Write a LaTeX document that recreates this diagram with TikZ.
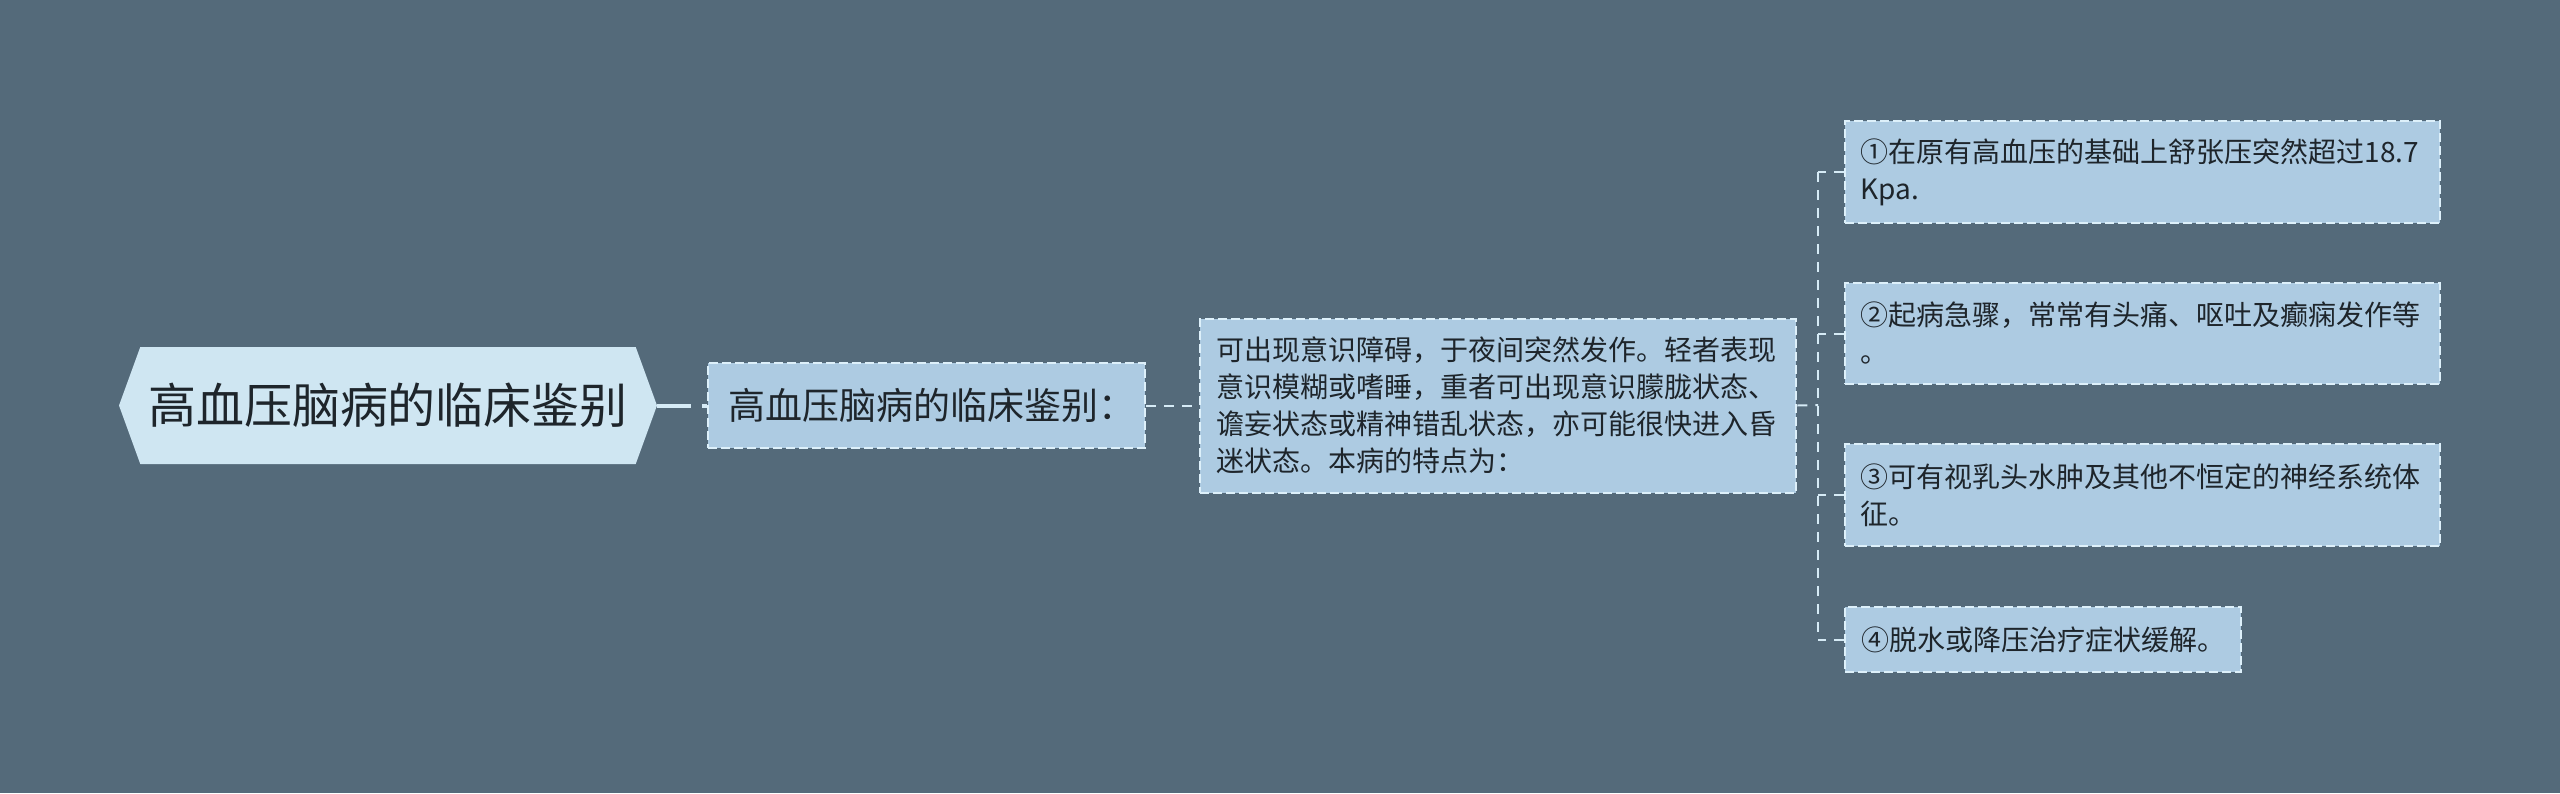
\documentclass[tikz,border=0pt]{standalone}
\usepackage{fontspec}
\setmainfont{Noto Sans CJK SC}
\usepackage{xcolor}
\usepackage{tikz}
\usetikzlibrary{
  shapes.symbols,
  positioning
}

\definecolor{bgslate}{HTML}{546A7A}
\definecolor{rootfill}{HTML}{CFE6F2}
\definecolor{boxfill}{HTML}{ADCBE2}
\definecolor{boxedge}{HTML}{DDF0FA}
\definecolor{linkcol}{HTML}{D6EBF6}
\definecolor{inkdark}{HTML}{1E252B}

\begin{document}
\begin{tikzpicture}[
          x=0.5pt,y=-0.5pt,
          rootnode/.style={
              signal,
              signal to=west and east,
              signal pointer angle=140,
              fill=rootfill,
              text=inkdark,
              inner sep=0pt,
              minimum width=269pt,
              minimum height=58.5pt,
              font=\fontsize{24}{28}\selectfont
            },boxnode/.style={
              draw=boxedge,
              fill=boxfill,
              text=inkdark,
              line width=1pt,
              dash pattern=on 4.5pt off 2pt,
              inner ysep=0pt,
              align=left
            },textbox/.style={
              boxnode,
              text width=282pt,
              inner xsep=7.75pt,
              font=\fontsize{14}{18.5}\selectfont
            },linkline/.style={
              draw=linkcol,
              line width=1pt,
              dash pattern=on 5pt off 4pt
            }
        ]
        % 背景と描画範囲
        \fill[bgslate] (0,0) rectangle (2560,793);
        \useasboundingbox (0,0) rectangle (2560,793);

        % 中心のノード
        \node[rootnode] (root) at (388,405.5) {高血压脑病的临床鉴别};

        % 第一階層
        \node[
          boxnode,
          text width=198.5pt,
          inner xsep=10pt,
          minimum height=42.5pt,
          font=\fontsize{18.5}{22}\selectfont,
          right=25pt of root
        ] (title) {高血压脑病的临床鉴别：};

        % 第二階層
        \node[
          textbox,
          minimum height=87pt,
          inner xsep=8pt,
          right=26.5pt of title
        ] (desc) {可出现意识障碍，于夜间突然发作。轻者表现\\
          意识模糊或嗜睡，重者可出现意识朦胧状态、\\
          谵妄状态或精神错乱状态，亦可能很快进入昏\\
          迷状态。本病的特点为：};

        % 特点の各項目
        \node[textbox,anchor=west,minimum height=51pt] (featA) at (1844,172)
        {①在原有高血压的基础上舒张压突然超过18.7\\Kpa.};
        \node[textbox,anchor=west,minimum height=50.5pt] (featB) at (1844,333.5)
        {②起病急骤，常常有头痛、呕吐及癫痫发作等\\。};
        \node[textbox,anchor=west,minimum height=51pt] (featC) at (1844,495)
        {③可有视乳头水肿及其他不恒定的神经系统体\\征。};
        \node[
          boxnode,
          anchor=west,
          inner xsep=8pt,
          minimum height=32.5pt,
          font=\fontsize{14}{18.5}\selectfont
        ] (featD) at (1844,639.5) {④脱水或降压治疗症状缓解。};

        % 接続線
        \coordinate (trunk) at (1818,405);
        \draw[
          draw=linkcol,
          line width=2pt,
          dash pattern=on 17pt off 5.5pt on 2.5pt off 20pt
        ] (root.east) -- (title.west);
        \draw[linkline] (title.east) -- (desc.west);
        \draw[linkline] (desc.east) -- (trunk);
        \draw[linkline] (trunk |- featA.west) -- (trunk |- featD.west);
        \draw[linkline,dash phase=1pt] (trunk |- featA.west) -- (featA.west);
        \draw[linkline,dash phase=1pt] (trunk |- featB.west) -- (featB.west);
        \draw[linkline,dash phase=1pt] (trunk |- featC.west) -- (featC.west);
        \draw[linkline,dash phase=1pt] (trunk |- featD.west) -- (featD.west);

      \end{tikzpicture}
\end{document}
